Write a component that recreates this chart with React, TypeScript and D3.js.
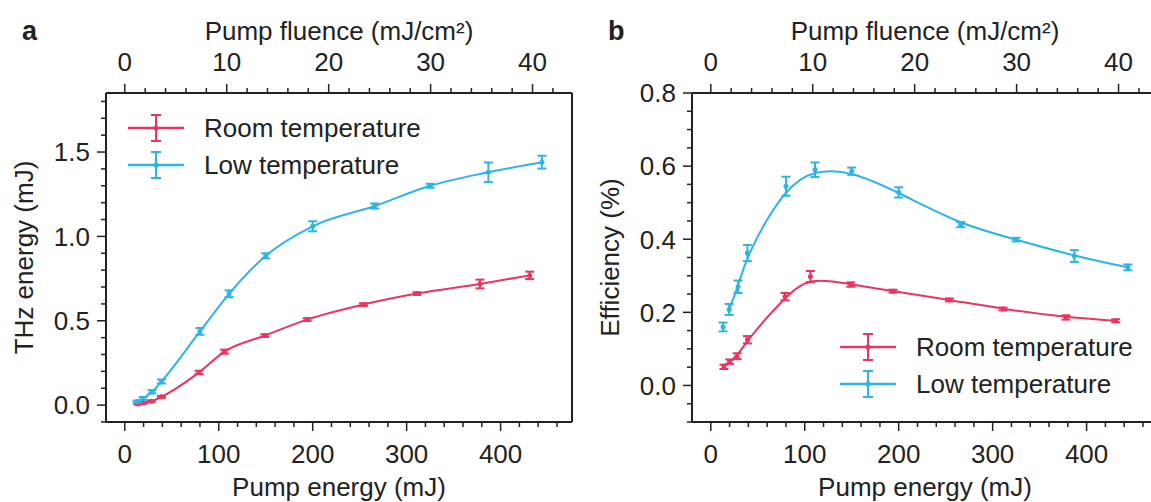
import React from "react";
import * as d3 from "d3";

// ---------- data ----------
const energyRoom = [14, 20, 28, 39, 79, 106, 149, 194, 254, 311, 378, 431];
const thzRoom = [0.007, 0.013, 0.023, 0.049, 0.194, 0.317, 0.412, 0.507, 0.596, 0.661, 0.718, 0.769];
const thzRoomErr = [0.004, 0.004, 0.005, 0.006, 0.01, 0.012, 0.008, 0.008, 0.008, 0.008, 0.026, 0.022];
const effRoom = [0.051, 0.065, 0.080, 0.125, 0.243, 0.298, 0.276, 0.258, 0.234, 0.209, 0.186, 0.177];
const effRoomErr = [0.006, 0.006, 0.008, 0.01, 0.01, 0.015, 0.006, 0.004, 0.004, 0.004, 0.006, 0.004];

const energyLow = [13, 19.5, 29, 39, 80, 111, 150, 200, 266, 325, 387, 444];
const thzLow = [0.021, 0.040, 0.079, 0.140, 0.437, 0.660, 0.885, 1.060, 1.180, 1.300, 1.380, 1.440];
const thzLowErr = [0.006, 0.008, 0.01, 0.012, 0.02, 0.02, 0.015, 0.03, 0.015, 0.012, 0.058, 0.038];
const effLow = [0.160, 0.208, 0.270, 0.362, 0.545, 0.590, 0.586, 0.528, 0.440, 0.399, 0.354, 0.323];
const effLowErr = [0.012, 0.015, 0.017, 0.022, 0.026, 0.02, 0.01, 0.014, 0.007, 0.005, 0.016, 0.008];

const seriesNames = ["Room temperature", "Low temperature"];
const energyTicks = [0, 100, 200, 300, 400];
const fluenceTicks = [0, 10, 20, 30, 40];
const thzTicks = [0.0, 0.5, 1.0, 1.5];
const effTicks = [0.0, 0.2, 0.4, 0.6, 0.8];

const mJperFluence = 10.85;

const RED = "#e93560";
const BLUE = "#2db4e6";
const FONT = "'Liberation Sans', Arial, Helvetica, sans-serif";
const FS = 26;

type PanelProps = {
  left: number;
  label: string;
  yTitle: string;
  yDomain: [number, number];
  yTicks: number[];
  yMinorStep: number;
  yFmt: (v: number) => string;
  rows: { x: number[]; y: number[]; e: number[]; color: string; start: number }[];
  curve: any;
  legend: { x: number; y: number };
  yTitleX: number;
};

function Panel(p: PanelProps) {
  const top = 93;
  const bottom = 422;
  const width = 466;
  const right = p.left + width;
  const clipRight = Math.min(right, 1151);
  const x = d3.scaleLinear().domain([-20, 476]).range([p.left, right]);
  const xf = d3.scaleLinear().domain([-20 / mJperFluence, 476 / mJperFluence]).range([p.left, right]);
  const y = d3.scaleLinear().domain(p.yDomain).range([bottom, top]);

  const xMinor = d3.range(0, 477, 20);
  const fMinor = d3.range(0, 44, 2);
  const yMinor = d3.range(0, p.yDomain[1] + 1e-9, p.yMinorStep).concat(
    d3.range(-p.yMinorStep, p.yDomain[0] - 1e-9, -p.yMinorStep)
  );
  const isMajor = (v: number, arr: number[]) => arr.some((t) => Math.abs(t - v) < 1e-6);

  const line = d3
    .line<[number, number]>()
    .x((d) => x(d[0]))
    .y((d) => y(d[1]))
    .curve(p.curve);

  return (
    <g>
      <text x={p.left - 84} y={40} fontFamily={FONT} fontSize={27} fontWeight="bold" fill="#222">
        {p.label}
      </text>
      {/* top axis */}
      <text x={p.left + 233} y={40} textAnchor="middle" fontFamily={FONT} fontSize={FS} fill="#222">
        Pump fluence (mJ/cm²)
      </text>
      {fMinor.map((f) => {
        const xx = xf(f);
        if (xx > 1151) return null;
        const maj = isMajor(f, fluenceTicks);
        return <line key={"f" + f} x1={xx} x2={xx} y1={top} y2={top - (maj ? 9 : 5)} stroke="#222" strokeWidth={1.5} />;
      })}
      {fluenceTicks.map((f) => (
        <text key={"fl" + f} x={xf(f)} y={71} textAnchor="middle" fontFamily={FONT} fontSize={FS} fill="#222">
          {f}
        </text>
      ))}
      {/* bottom axis */}
      {xMinor.map((v) => {
        const xx = x(v);
        if (xx > 1151) return null;
        const maj = isMajor(v, energyTicks);
        return <line key={"x" + v} x1={xx} x2={xx} y1={bottom} y2={bottom + (maj ? 9 : 5)} stroke="#222" strokeWidth={1.5} />;
      })}
      {energyTicks.map((v) => (
        <text key={"xl" + v} x={x(v)} y={463} textAnchor="middle" fontFamily={FONT} fontSize={FS} fill="#222">
          {v}
        </text>
      ))}
      <text x={p.left + 233} y={496} textAnchor="middle" fontFamily={FONT} fontSize={FS} fill="#222">
        Pump energy (mJ)
      </text>
      {/* left axis */}
      {yMinor.map((v) => {
        const yy = y(v);
        if (yy < top - 0.5 || yy > bottom + 0.5) return null;
        const maj = isMajor(v, p.yTicks);
        return <line key={"y" + v} x1={p.left} x2={p.left - (maj ? 9 : 5)} y1={yy} y2={yy} stroke="#222" strokeWidth={1.5} />;
      })}
      {p.yTicks.map((v) => (
        <text key={"yl" + v} x={p.left - 16} y={y(v) + 9.3} textAnchor="end" fontFamily={FONT} fontSize={FS} fill="#222">
          {p.yFmt(v)}
        </text>
      ))}
      <text
        transform={`translate(${p.yTitleX},${(top + bottom) / 2}) rotate(-90)`}
        textAnchor="middle"
        fontFamily={FONT}
        fontSize={FS}
        fill="#222"
      >
        {p.yTitle}
      </text>
      {/* frame */}
      <line x1={p.left} x2={clipRight} y1={top} y2={top} stroke="#222" strokeWidth={2} />
      <line x1={p.left} x2={clipRight} y1={bottom} y2={bottom} stroke="#222" strokeWidth={2} />
      <line x1={p.left} x2={p.left} y1={top} y2={bottom} stroke="#222" strokeWidth={2} />
      {right <= 1151 && <line x1={right} x2={right} y1={top} y2={bottom} stroke="#222" strokeWidth={2} />}
      {/* data */}
      {p.rows.map((r, i) => {
        const pts: [number, number][] = r.x.map((xv, k) => [xv, r.y[k]] as [number, number]).slice(r.start);
        return (
          <g key={"s" + i}>
            <path d={line(pts) || ""} fill="none" stroke={r.color} strokeWidth={2} />
            {r.x.map((xv, k) => {
              const cx = x(xv);
              const y1 = y(r.y[k] - r.e[k]);
              const y2 = y(r.y[k] + r.e[k]);
              return (
                <g key={k} stroke={r.color} strokeWidth={2}>
                  <line x1={cx} x2={cx} y1={y1} y2={y2} />
                  <line x1={cx - 4.5} x2={cx + 4.5} y1={y1} y2={y1} />
                  <line x1={cx - 4.5} x2={cx + 4.5} y1={y2} y2={y2} />
                  <circle cx={cx} cy={y(r.y[k])} r={2.5} fill={r.color} stroke="none" />
                </g>
              );
            })}
          </g>
        );
      })}
      {/* legend */}
      {seriesNames.map((name, i) => {
        const color = i === 0 ? RED : BLUE;
        const ly = p.legend.y + i * 37;
        const lx = p.legend.x;
        return (
          <g key={"lg" + i}>
            <line x1={lx} x2={lx + 56} y1={ly} y2={ly} stroke={color} strokeWidth={2.5} />
            <line x1={lx + 28} x2={lx + 28} y1={ly - 13} y2={ly + 13} stroke={color} strokeWidth={2} />
            <line x1={lx + 23} x2={lx + 33} y1={ly - 13} y2={ly - 13} stroke={color} strokeWidth={2} />
            <line x1={lx + 23} x2={lx + 33} y1={ly + 13} y2={ly + 13} stroke={color} strokeWidth={2} />
            <circle cx={lx + 28} cy={ly} r={2.5} fill={color} />
            <text x={lx + 76} y={ly + 9.3} fontFamily={FONT} fontSize={FS} fill="#222">
              {name}
            </text>
          </g>
        );
      })}
    </g>
  );
}

export default function App() {
  return (
    <svg width={1151} height={502} style={{ position: "absolute", left: 0, top: 0, background: "#fff" }}>
      <rect x={0} y={0} width={1151} height={502} fill="#fff" />
      <Panel
        left={106}
        label="a"
        yTitle="THz energy (mJ)"
        yDomain={[-0.1, 1.85]}
        yTicks={thzTicks}
        yMinorStep={0.1}
        yFmt={(v) => v.toFixed(1)}
        rows={[
          { x: energyRoom, y: thzRoom, e: thzRoomErr, color: RED, start: 0 },
          { x: energyLow, y: thzLow, e: thzLowErr, color: BLUE, start: 0 },
        ]}
        curve={d3.curveMonotoneX}
        legend={{ x: 128, y: 128 }}
        yTitleX={33}
      />
      <Panel
        left={692}
        label="b"
        yTitle="Efficiency (%)"
        yDomain={[-0.1, 0.8]}
        yTicks={effTicks}
        yMinorStep={0.05}
        yFmt={(v) => v.toFixed(1)}
        rows={[
          { x: energyRoom, y: effRoom, e: effRoomErr, color: RED, start: 0 },
          { x: energyLow, y: effLow, e: effLowErr, color: BLUE, start: 1 },
        ]}
        curve={d3.curveBasis}
        legend={{ x: 840, y: 347 }}
        yTitleX={619}
      />
    </svg>
  );
}
